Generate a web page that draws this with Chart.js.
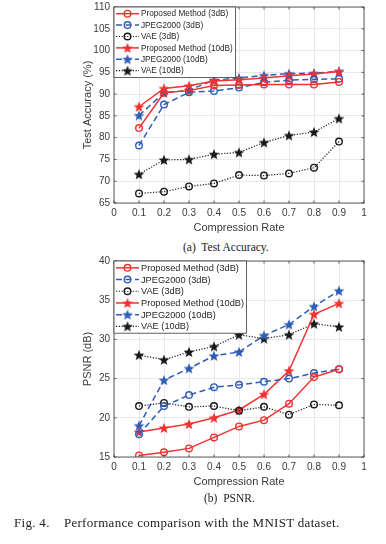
<!DOCTYPE html>
<html>
<head>
<meta charset="utf-8">
<script src="https://cdn.jsdelivr.net/npm/chart.js@4.4.1/dist/chart.umd.min.js"></script>
<style>
body { margin: 0; background: #fff; width: 386px; height: 544px; position: relative; overflow: hidden; }
canvas { position: absolute; left: 0; }
.cap { position: absolute; font-family: "Liberation Serif", "Times New Roman", serif; font-size: 11.5px; color: #222; white-space: nowrap; }
</style>
</head>
<body>
<canvas id="accChart" width="386" height="240" style="top:0"></canvas>
<canvas id="psnrChart" width="386" height="240" style="top:254px"></canvas>
<div class="cap" style="left:183px;top:241px">(a)&nbsp; Test Accuracy.</div>
<div class="cap" style="left:204px;top:492px">(b)&nbsp; PSNR.</div>
<div class="cap" style="left:14px;top:515px;font-size:13px;letter-spacing:0.3px">Fig. 4.&nbsp;&nbsp;&nbsp; Performance comparison with the MNIST dataset.</div>
<script>
const rates = [0.1, 0.2, 0.3, 0.4, 0.5, 0.6, 0.7, 0.8, 0.9];
const seriesNames = ['Proposed Method (3dB)', 'JPEG2000 (3dB)', 'VAE (3dB)',
                     'Proposed Method (10dB)', 'JPEG2000 (10dB)', 'VAE (10dB)'];

// (a) test accuracy, %
const accProposed3 = [82.2, 90.3, 90.8, 92.0, 92.1, 92.2, 92.2, 92.2, 92.8];
const accJpeg3     = [78.2, 87.6, 90.4, 90.7, 91.5, 92.7, 93.2, 93.4, 93.5];
const accVae3      = [67.2, 67.6, 68.8, 69.5, 71.4, 71.3, 71.8, 73.1, 79.1];
const accProposed10 = [87.1, 91.3, 91.9, 93.0, 93.3, 93.7, 94.2, 94.6, 95.2];
const accJpeg10     = [85.1, 90.3, 90.9, 93.2, 93.7, 94.3, 94.7, 94.8, 95.2];
const accVae10      = [71.6, 74.9, 75.0, 76.2, 76.6, 78.9, 80.5, 81.3, 84.4];

// (b) PSNR, dB
const psnrProposed3 = [15.2, 15.6, 16.1, 17.5, 18.9, 19.7, 21.8, 25.2, 26.2];
const psnrJpeg3     = [17.9, 21.5, 22.9, 23.9, 24.2, 24.6, 25.0, 25.7, 26.2];
const psnrVae3      = [21.5, 21.9, 21.4, 21.5, 20.9, 21.4, 20.4, 21.7, 21.6];
const psnrProposed10 = [18.2, 18.7, 19.2, 20.0, 21.0, 23.0, 26.0, 33.2, 34.6];
const psnrJpeg10     = [19.0, 24.8, 26.3, 27.9, 28.4, 30.5, 31.9, 34.2, 36.2];
const psnrVae10      = [28.0, 27.4, 28.4, 29.1, 30.6, 30.1, 30.6, 32.0, 31.6];

const RED = '#f03232', BLUE = '#2f5db5', BLACK = '#1a1a1a';
const AXIS = '#3a3a3a';
const SANS = '"Liberation Sans", Arial, sans-serif';

function starImage(color, size) {
    const c = document.createElement('canvas');
    c.width = size; c.height = size;
    const ctx = c.getContext('2d');
    const cx = size / 2, cy = size / 2 + 0.5, R = size / 2 - 0.3, r = R * 0.42;
    ctx.beginPath();
    for (let i = 0; i < 10; i++) {
        const a = -Math.PI / 2 + i * Math.PI / 5;
        const rad = i % 2 ? r : R;
        ctx.lineTo(cx + rad * Math.cos(a), cy + rad * Math.sin(a));
    }
    ctx.closePath();
    ctx.fillStyle = color;
    ctx.fill();
    return c;
}

// line / marker look for the six series, in legend order
const styles = [
    { color: RED,   dash: [],         width: 1.5, marker: 'circle' },
    { color: BLUE,  dash: [6, 3.5],   width: 1.5, marker: 'circle' },
    { color: BLACK, dash: [1.2, 1.6], width: 1.2, marker: 'circle' },
    { color: RED,   dash: [],         width: 1.5, marker: starImage(RED, 12) },
    { color: BLUE,  dash: [6, 3.5],   width: 1.5, marker: starImage(BLUE, 12) },
    { color: BLACK, dash: [1.2, 1.6], width: 1.2, marker: starImage(BLACK, 12) }
];

function makeDatasets(seriesList) {
    return seriesList.map((vals, i) => {
        const s = styles[i];
        return {
            label: seriesNames[i],
            data: rates.map((r, k) => ({ x: r, y: vals[k] })),
            borderColor: s.color,
            backgroundColor: 'rgba(0,0,0,0)',
            borderWidth: s.width,
            borderDash: s.dash,
            pointStyle: s.marker,
            pointRadius: 3.3,
            pointBorderWidth: 1.4,
            pointBorderColor: s.color,
            pointBackgroundColor: 'rgba(0,0,0,0)',
            tension: 0
        };
    });
}

// box, inward ticks and in-plot legend like the MATLAB figure
const boxLegend = {
    id: 'boxLegend',
    afterDraw(chart, args, opts) {
        const ctx = chart.ctx, a = chart.chartArea;
        const xs = chart.scales.x, ys = chart.scales.y;
        ctx.save();
        ctx.strokeStyle = AXIS;
        ctx.lineWidth = 0.8;
        ctx.setLineDash([]);
        ctx.strokeRect(a.left, a.top, a.right - a.left, a.bottom - a.top);
        ctx.beginPath();
        xs.ticks.forEach(t => {
            const px = xs.getPixelForValue(t.value);
            ctx.moveTo(px, a.bottom); ctx.lineTo(px, a.bottom - 2.5);
            ctx.moveTo(px, a.top); ctx.lineTo(px, a.top + 2.5);
        });
        ys.ticks.forEach(t => {
            const py = ys.getPixelForValue(t.value);
            ctx.moveTo(a.left, py); ctx.lineTo(a.left + 2.5, py);
            ctx.moveTo(a.right, py); ctx.lineTo(a.right - 2.5, py);
        });
        ctx.stroke();

        // legend: font size chosen so the longest label spans opts.textW
        const rowH = opts.rowH;
        ctx.font = '10px ' + SANS;
        let tw = 0;
        chart.data.datasets.forEach(d => { tw = Math.max(tw, ctx.measureText(d.label).width); });
        const fs = 10 * opts.textW / tw;
        ctx.font = fs.toFixed(2) + 'px ' + SANS;
        const x0 = a.left, y0 = a.top;
        const w = 27 + opts.textW + 2.5, h = rowH * chart.data.datasets.length + 2;
        ctx.fillStyle = '#fff';
        ctx.fillRect(x0, y0, w, h);
        ctx.strokeStyle = AXIS;
        ctx.lineWidth = 0.8;
        ctx.strokeRect(x0, y0, w, h);
        chart.data.datasets.forEach((d, i) => {
            const cy = y0 + 1 + rowH * (i + 0.5);
            ctx.strokeStyle = d.borderColor;
            ctx.lineWidth = d.borderWidth;
            ctx.setLineDash(d.borderDash);
            ctx.beginPath();
            ctx.moveTo(x0 + 2, cy); ctx.lineTo(x0 + 25, cy);
            ctx.stroke();
            ctx.setLineDash([]);
            const mx = x0 + 13.5;
            if (d.pointStyle === 'circle') {
                ctx.lineWidth = d.pointBorderWidth;
                ctx.beginPath();
                ctx.arc(mx, cy, d.pointRadius, 0, Math.PI * 2);
                ctx.stroke();
            } else {
                const img = d.pointStyle;
                ctx.drawImage(img, mx - img.width / 2, cy - img.height / 2);
            }
            ctx.fillStyle = '#262626';
            ctx.textBaseline = 'middle';
            ctx.fillText(d.label, x0 + 27, cy + 0.5);
        });
        ctx.restore();
    }
};

function drawChart(id, seriesList, yMin, yMax, yTitle, textW, rowH) {
    return new Chart(document.getElementById(id), {
        type: 'line',
        data: { datasets: makeDatasets(seriesList) },
        plugins: [boxLegend],
        options: {
            responsive: false,
            animation: false,
            layout: { padding: { left: 76, top: 7, right: 22, bottom: 2 } },
            plugins: {
                legend: { display: false },
                tooltip: { enabled: false },
                boxLegend: { textW: textW, rowH: rowH }
            },
            scales: {
                x: {
                    type: 'linear',
                    min: 0, max: 1,
                    afterFit: s => { s.height = 35; },
                    grid: { color: '#e3e3e3', drawTicks: false, lineWidth: 0.8 },
                    border: { display: false },
                    ticks: {
                        stepSize: 0.1, padding: 4, color: AXIS, maxRotation: 0,
                        font: { family: SANS, size: 10 },
                        callback: v => (v === 0 || v === 1) ? String(v) : v.toFixed(1)
                    },
                    title: {
                        display: true, text: 'Compression Rate', color: AXIS,
                        padding: { top: 3, bottom: 3 },
                        font: { family: SANS, size: 11 }
                    }
                },
                y: {
                    min: yMin, max: yMax,
                    afterFit: s => { s.width = 38; s.paddingTop = 0; s.paddingBottom = 0; },
                    grid: { color: '#e3e3e3', drawTicks: false, lineWidth: 0.8 },
                    border: { display: false },
                    ticks: {
                        stepSize: 5, padding: 4, color: AXIS,
                        font: { family: SANS, size: 10 }
                    },
                    title: {
                        display: true, text: yTitle, color: AXIS,
                        padding: { top: 5, bottom: 2 },
                        font: { family: SANS, size: 11 }
                    }
                }
            }
        }
    });
}

drawChart('accChart',
    [accProposed3, accJpeg3, accVae3, accProposed10, accJpeg10, accVae10],
    65, 110, 'Test Accuracy (%)', 92, 11.4);
drawChart('psnrChart',
    [psnrProposed3, psnrJpeg3, psnrVae3, psnrProposed10, psnrJpeg10, psnrVae10],
    15, 40, 'PSNR (dB)', 103, 11.7);
</script>
</body>
</html>
